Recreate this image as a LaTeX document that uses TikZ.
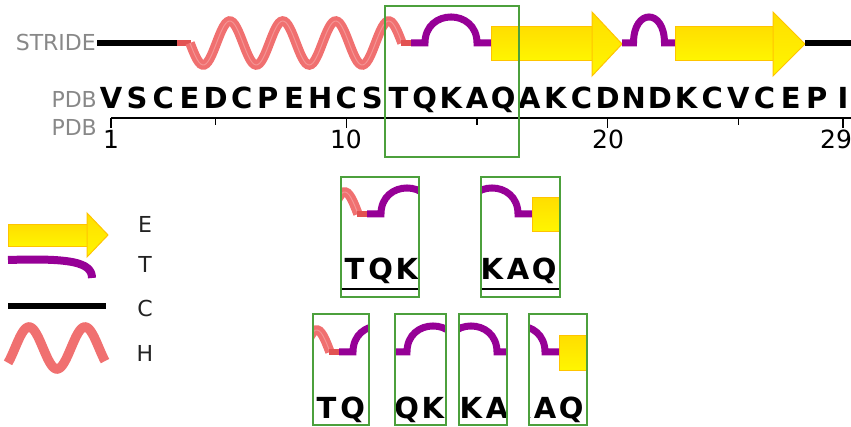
\documentclass[tikz,border=0pt]{standalone}
\usepackage{fontspec}
\newfontfamily\dejavu{DejaVu Sans}
\usepackage{tikz}
\usetikzlibrary{positioning}
\usepackage{xcolor}
\definecolor{helixred}{RGB}{240,112,112}
\definecolor{helixdark}{RGB}{226,82,82}
\definecolor{turnpurple}{RGB}{150,0,150}
\definecolor{strandtop}{RGB}{255,222,0}
\definecolor{strandbot}{RGB}{255,246,0}
\definecolor{strandedge}{RGB}{255,196,0}
\definecolor{boxgreen}{RGB}{76,160,60}
\definecolor{labelgray}{RGB}{136,136,136}
\definecolor{keygray}{RGB}{34,34,34}

\begin{document}
\begin{tikzpicture}[
    x=1pt,y=-1pt,
    coil/.style={line width=5.5pt,black},
    helix/.style={line width=9.5pt,helixred},
    helixend/.style={line width=6pt,helixdark},
    turn/.style={line width=7pt,turnpurple},
    strand/.style={draw=strandedge,line width=1pt,top color=strandtop,bottom color=strandbot},
    res/.style={font=\dejavu\bfseries\fontsize{29}{29}\selectfont,anchor=base,inner sep=0pt},
    lbl/.style={font=\dejavu\fontsize{22}{22}\selectfont,text=labelgray,anchor=base east,inner sep=0pt},
    key/.style={font=\dejavu\fontsize{22}{22}\selectfont,text=keygray,anchor=base,inner sep=0pt},
    num/.style={font=\dejavu\fontsize{25}{25}\selectfont,anchor=base,inner sep=0pt},
    window/.style={rectangle,anchor=north west,inner sep=0pt,outer sep=0pt},
    frame/.style={draw=boxgreen,line width=1.4pt},
    track/.pic={
      \draw[coil] (97,43) -- (178,43);
      \draw[helixend] (177,43) -- (191,43);
      \draw[helix] plot[domain=190:402,samples=120] (\x,{43+22*sin((\x-190)/53*360)});
      \draw[helixred!75!white,line width=1pt] plot[domain=190:402,samples=120] (\x,{43+22*sin((\x-190)/53*360)});
      \draw[helixend] (401,43) -- (412,43);
      \draw[turn] (411,43) -- (425,43) .. controls (425,8.3) and (477,8.3) .. (477,43) -- (491,43);
      \draw[strand] (491,27) rectangle (592,61);
      \draw[strand] (592,12) -- (622,44) -- (592,76) -- cycle;
      \draw[turn] (622,43) -- (633.5,43) .. controls (633.5,8.3) and (664.5,8.3) .. (664.5,43) -- (676,43);
      \draw[strand] (675,27) rectangle (773,61);
      \draw[strand] (773,12) -- (805,44) -- (773,76) -- cycle;
      \draw[coil] (805,43) -- (851,43);
      \foreach \r [count=\i] in {V,S,C,E,D,C,P,E,H,C,S,T,Q,K,A,Q,A,K,C,D,N,D,K,C,V,C,E,P,I}
        \node[res] (res\i) at ({111+(\i-1)*26.143},109) {\r};
      \draw[line width=1.2pt] (111,118) -- (851,118);
    }
  ]
  \useasboundingbox (0,0) rectangle (851,427);

  \pic (main) at (0,0) {track};
  \node[lbl] (stride) at (96,51) {STRIDE};
  \node[lbl] (pdbseq) at (97,108) {PDB};
  \node[lbl] (pdbnum) at (97,136) {PDB};
  \foreach \t in {1,10,20,29}
    \draw[line width=1.2pt] ({111+(\t-1)*26.143},118) -- ++(0,10);
  \foreach \t in {5,15,25}
    \draw[line width=1.2pt] ({111+(\t-1)*26.143},118) -- ++(0,7);
  \node[num] (n1) at (111,149) {1};
  \node[num] (n10) at (346,149) {10};
  \node[num] (n20) at (608,149) {20};
  \node[num] (n29) at (836,149) {29};

  \node[window,minimum width=134pt,minimum height=151pt] (focus) at (385,6) {};
  \draw[frame] (focus.north west) rectangle (focus.south east);

  \foreach \n/\bx/\by/\bw/\bh/\dx/\dy in {tqk/341/177/78/120/-44/171,kaq/481/177/79/120/41/171,
      tq/313/314/56/111/-72/309,qk/395/314/51/111/-18/309,ka/459/314/48/111/20/309,aq/529/314/58/111/68/309}{
    \node[window,minimum width=\bw pt,minimum height=\bh pt] (\n) at (\bx,\by) {};
    \begin{scope}
      \clip (\n.north west) rectangle (\n.south east);
      \pic (\n) at (\dx,\dy) {track};
    \end{scope}
    \draw[frame] (\n.north west) rectangle (\n.south east);
  }

  \draw[strand] (8,225) rectangle (87,247);
  \draw[strand] (87,213) -- (108,235) -- (87,257) -- cycle;
  \draw[turn,line width=8pt] (8,260) .. controls (70,258) and (92,262) .. (92,278);
  \draw[coil,line width=6.5pt] (8,306) -- (106,306);
  \draw[helix] plot[domain=8:105,samples=80] (\x,{348-21*cos((\x-29)/56*360)});
  \node[key] (keyE) at (145,233) {E};
  \node[key] (keyT) at (145,273) {T};
  \node[key] (keyC) at (145,317) {C};
  \node[key] (keyH) at (145,362) {H};
\end{tikzpicture}
\end{document}
